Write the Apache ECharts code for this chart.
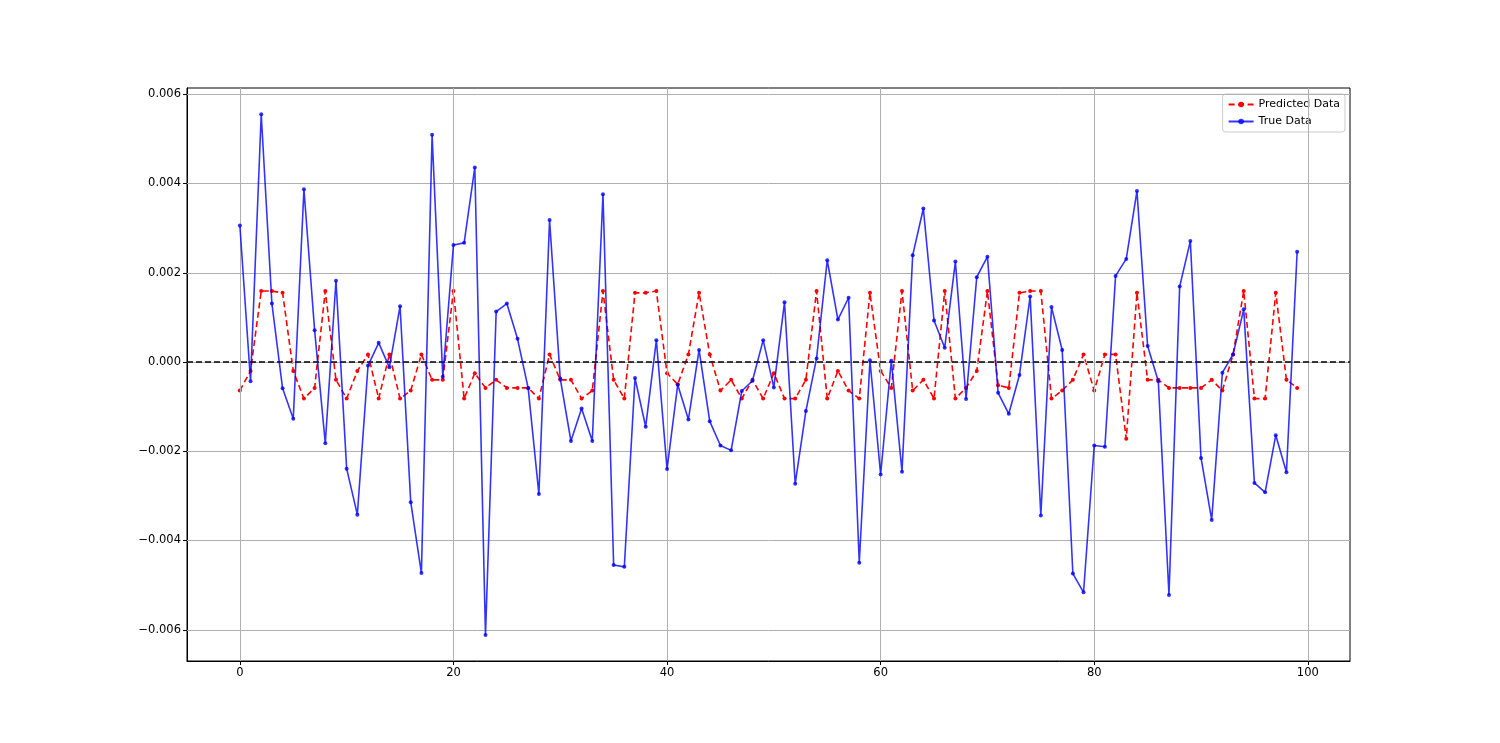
<!DOCTYPE html>
<html>
<head>
<meta charset="utf-8">
<script src="https://cdn.jsdelivr.net/npm/echarts@6/dist/echarts.min.js"></script>
<style>
html,body{margin:0;padding:0;background:#fff;}
#chart{width:1500px;height:743px;}
</style>
</head>
<body>
<div id="chart"></div>
<script>
const predicted = [
-0.00064, -0.00020, 0.00159, 0.00159, 0.00155, -0.00020, -0.00082, -0.00058, 0.00159, -0.00040,
-0.00082, -0.00020, 0.00017, -0.00082, 0.00017, -0.00082, -0.00064, 0.00017, -0.00040, -0.00040,
0.00159, -0.00082, -0.00025, -0.00058, -0.00040, -0.00058, -0.00058, -0.00058, -0.00082, 0.00017,
-0.00040, -0.00040, -0.00082, -0.00064, 0.00159, -0.00040, -0.00082, 0.00155, 0.00155, 0.00159,
-0.00025, -0.00050, 0.00017, 0.00155, 0.00017, -0.00064, -0.00040, -0.00082, -0.00040, -0.00082,
-0.00025, -0.00082, -0.00082, -0.00040, 0.00159, -0.00082, -0.00020, -0.00064, -0.00082, 0.00155,
-0.00020, -0.00058, 0.00159, -0.00064, -0.00040, -0.00082, 0.00159, -0.00082, -0.00058, -0.00020,
0.00159, -0.00052, -0.00058, 0.00155, 0.00159, 0.00159, -0.00082, -0.00064, -0.00040, 0.00017,
-0.00064, 0.00017, 0.00017, -0.00172, 0.00155, -0.00040, -0.00040, -0.00058, -0.00058, -0.00058,
-0.00058, -0.00040, -0.00064, 0.00017, 0.00159, -0.00082, -0.00082, 0.00155, -0.00040, -0.00058
];
const trueData = [
0.00306, -0.00043, 0.00555, 0.00131, -0.00059, -0.00127, 0.00387, 0.00071, -0.00182, 0.00182,
-0.00239, -0.00342, -0.00008, 0.00043, -0.00012, 0.00125, -0.00314, -0.00473, 0.00509, -0.00033,
0.00262, 0.00267, 0.00436, -0.00612, 0.00113, 0.00131, 0.00052, -0.00059, -0.00296, 0.00318,
-0.00037, -0.00177, -0.00104, -0.00177, 0.00376, -0.00455, -0.00459, -0.00036, -0.00145, 0.00049,
-0.00240, -0.00051, -0.00129, 0.00027, -0.00133, -0.00187, -0.00198, -0.00065, -0.00042, 0.00049,
-0.00057, 0.00134, -0.00273, -0.00110, 0.00008, 0.00228, 0.00095, 0.00144, -0.00450, 0.00004,
-0.00252, 0.00003, -0.00246, 0.00239, 0.00344, 0.00093, 0.00032, 0.00225, -0.00083, 0.00190,
0.00236, -0.00069, -0.00116, -0.00029, 0.00147, -0.00344, 0.00123, 0.00027, -0.00474, -0.00516,
-0.00187, -0.00190, 0.00193, 0.00231, 0.00383, 0.00036, -0.00043, -0.00522, 0.00169, 0.00271,
-0.00215, -0.00354, -0.00024, 0.00017, 0.00118, -0.00271, -0.00292, -0.00164, -0.00247, 0.00247
];
const xTicks = [0, 20, 40, 60, 80, 100];
const yTicks = [-0.006, -0.004, -0.002, 0.000, 0.002, 0.004, 0.006];

const predPairs = predicted.map((v, i) => [i, v]);
const truePairs = trueData.map((v, i) => [i, v]);
const fmtY = v => { const s = Math.abs(v).toFixed(3); return (v < -1e-12 ? '\u2212' : '') + s; };

const gridLineStyle = {color: '#b0b0b0', width: 1, type: 'solid', opacity: 1};

const chart = echarts.init(document.getElementById('chart'), null, {renderer: 'canvas'});
chart.setOption({
  animation: false,
  backgroundColor: '#ffffff',
  textStyle: {fontFamily: 'DejaVu Sans'},
  grid: {left: 187, right: 150, top: 88, bottom: 82, show: true, borderColor: '#000', borderWidth: 1, backgroundColor: 'transparent'},
  legend: {
    data: ['Predicted Data', 'True Data'],
    orient: 'vertical',
    right: 155, top: 94,
    backgroundColor: 'rgba(255,255,255,0.8)',
    borderColor: '#cccccc', borderWidth: 1, borderRadius: 3,
    padding: [5, 5, 5, 5],
    itemGap: 6, itemWidth: 25, itemHeight: 7,
    textStyle: {fontSize: 11, color: '#000', fontFamily: 'DejaVu Sans'}
  },
  xAxis: {
    type: 'value', min: -4.95, max: 103.95,
    axisLine: {show: true, onZero: false, lineStyle: {color: '#000', width: 1}},
    axisTick: {show: true, inside: false, length: 4, lineStyle: {color: '#000'}, customValues: xTicks},
    axisLabel: {show: true, customValues: xTicks, margin: 6, fontSize: 11.5, color: '#000', fontFamily: 'DejaVu Sans', formatter: v => String(Math.round(v))},
    splitLine: {show: false}
  },
  yAxis: {
    type: 'value', min: -0.0067, max: 0.00614,
    axisLine: {show: true, onZero: false, lineStyle: {color: '#000', width: 1}},
    axisTick: {show: true, inside: false, length: 4, lineStyle: {color: '#000'}, customValues: yTicks},
    axisLabel: {show: true, customValues: yTicks, margin: 6, fontSize: 11.5, color: '#000', fontFamily: 'DejaVu Sans', formatter: v => fmtY(v)},
    splitLine: {show: false}
  },
  series: [
    {
      name: 'gridX', type: 'line', data: [], z: 1, silent: true,
      markLine: {silent: true, precision: 8, symbol: ['none', 'none'], label: {show: false}, lineStyle: gridLineStyle, data: xTicks.map(v => ({xAxis: v})), animation: false}
    },
    {
      name: 'gridY', type: 'line', data: [], z: 1, silent: true,
      markLine: {silent: true, precision: 8, symbol: ['none', 'none'], label: {show: false}, lineStyle: gridLineStyle, data: yTicks.map(v => ({yAxis: v})), animation: false}
    },
    {
      name: 'zero', type: 'line', data: [], z: 3, silent: true,
      markLine: {silent: true, precision: 8, symbol: ['none', 'none'], label: {show: false}, lineStyle: {color: '#000', width: 1.5, type: [6, 3]}, data: [{yAxis: 0}], animation: false}
    },
    {
      name: 'Predicted Data', type: 'line', data: predPairs, z: 4,
      symbol: 'circle', symbolSize: 4, showSymbol: true,
      color: '#ff0000',
      lineStyle: {color: '#ff0000', width: 1.6, type: [6, 3.5]},
      itemStyle: {color: '#ff0000'}
    },
    {
      name: 'True Data', type: 'line', data: truePairs, z: 5,
      symbol: 'circle', symbolSize: 4, showSymbol: true,
      color: 'rgba(0,0,255,0.8)',
      lineStyle: {color: 'rgba(0,0,255,0.8)', width: 1.6, type: 'solid'},
      itemStyle: {color: 'rgba(0,0,255,0.8)'}
    }
  ]
});
</script>
</body>
</html>
